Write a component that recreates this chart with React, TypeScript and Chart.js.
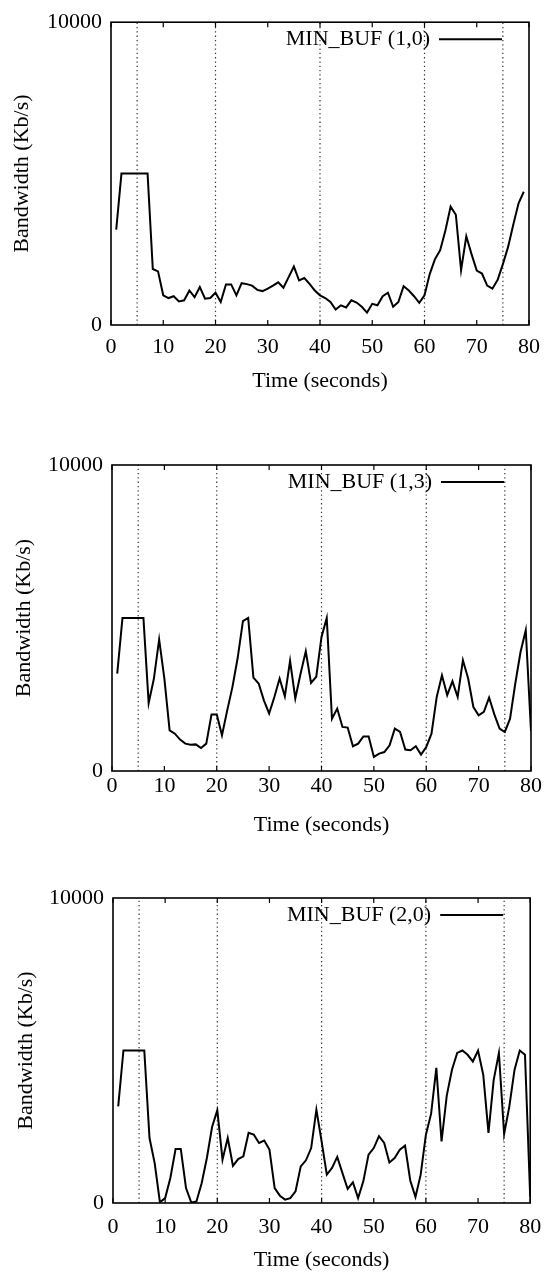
import React, { useEffect, useRef } from "react";
import { Chart, registerables } from "chart.js";

Chart.register(...registerables);

// ---------- data ----------
const TIME_A = [1,2,3,4,5,6,7,8,9,10,11,12,13,14,15,16,17,18,19,20,21,22,23,24,25,26,27,28,29,30,31,32,33,34,35,36,37,38,39,40,41,42,43,44,45,46,47,48,49,50,51,52,53,54,55,56,57,58,59,60,61,62,63,64,65,66,67,68,69,70,71,72,73,74,75,76,77,78,79];
const BW_1_0 = [3150,5000,5000,5000,5000,5000,5000,1850,1770,980,890,950,780,815,1140,920,1250,870,890,1065,760,1340,1340,980,1380,1350,1300,1160,1120,1200,1300,1410,1230,1580,1930,1470,1550,1360,1140,980,890,760,510,650,580,815,740,600,410,700,650,950,1065,600,760,1280,1140,950,730,980,1680,2170,2470,3120,3910,3640,1815,2930,2340,1800,1700,1300,1200,1490,2010,2580,3320,4020,4400];

const TIME_B = [1,2,3,4,5,6,7,8,9,10,11,12,13,14,15,16,17,18,19,20,21,22,23,24,25,26,27,28,29,30,31,32,33,34,35,36,37,38,39,40,41,42,43,44,45,46,47,48,49,50,51,52,53,54,55,56,57,58,59,60,61,62,63,64,65,66,67,68,69,70,71,72,73,74,75,76,77,78,79,80];
const BW_1_3 = [3180,5000,5000,5000,5000,5000,2220,3020,4300,3020,1330,1220,1025,895,860,870,750,895,1850,1850,1170,1980,2750,3700,4900,5000,3050,2860,2310,1880,2420,3020,2440,3600,2370,3180,3910,2880,3080,4380,5000,1710,2040,1440,1420,810,895,1130,1130,460,570,620,840,1385,1275,700,680,810,535,785,1220,2420,3130,2480,2930,2420,3620,3020,2090,1820,1930,2400,1850,1385,1275,1710,2860,3890,4600,1300];

const TIME_C = [1,2,3,4,5,6,7,8,9,10,11,12,13,14,15,16,17,18,19,20,21,22,23,24,25,26,27,28,29,30,31,32,33,34,35,36,37,38,39,40,41,42,43,44,45,46,47,48,49,50,51,52,53,54,55,56,57,58,59,60,61,62,63,64,65,66,67,68,69,70,71,72,73,74,75,76,77,78,79,80];
const BW_2_0 = [3170,5000,5000,5000,5000,5000,2130,1300,20,160,820,1770,1770,490,20,50,650,1475,2490,3040,1420,2130,1220,1440,1530,2300,2240,1970,2050,1750,490,240,110,160,380,1200,1400,1800,3060,2020,930,1150,1510,980,460,680,160,710,1585,1800,2190,1970,1330,1475,1750,1880,740,200,930,2240,2930,4430,2020,3520,4370,4920,5000,4860,4640,5000,4200,2300,4040,4920,2260,3170,4370,5000,4860,200];

const MARKER_TIMES = [5, 20, 40, 60, 75];
const X_MIN = 0, X_MAX = 80, X_STEP = 10;
const Y_MIN = 0, Y_MAX = 10000;
const X_TITLE = "Time (seconds)";
const Y_TITLE = "Bandwidth (Kb/s)";
const LEGENDS = ["MIN_BUF (1,0)", "MIN_BUF (1,3)", "MIN_BUF (2,0)"];

// ---------- layout ----------
const FONT_FAMILY = '"Liberation Serif", "Times New Roman", serif';
const FONT_SIZE = 22;
const LH = FONT_SIZE * 1.2;

type Layout = {
  top: number; height: number; left: number; right: number;
  areaTop: number; areaBottom: number; tickCenter: number; titleCenter: number; yTitleX: number;
};

const LAYOUTS: Layout[] = [
  { top: 0, height: 410, left: 111, right: 529, areaTop: 19, areaBottom: 325, tickCenter: 347.5, titleCenter: 381.7, yTitleX: 22.6 },
  { top: 420, height: 430, left: 112, right: 531, areaTop: 465, areaBottom: 771, tickCenter: 786, titleCenter: 825, yTitleX: 24 },
  { top: 850, height: 423, left: 113, right: 533, areaTop: 898, areaBottom: 1203, tickCenter: 1227, titleCenter: 1260.7, yTitleX: 26 },
];

const framePlugin = {
  id: "gnuplotFrame",
  afterDatasetsDraw(chart: any, _args: any, opts: any) {
    const { ctx, chartArea: a, scales } = chart;
    ctx.save();
    ctx.strokeStyle = "#000";
    ctx.lineWidth = 1.6;
    ctx.strokeRect(a.left, a.top, a.right - a.left, a.bottom - a.top);
    ctx.lineWidth = 1.2;
    for (let v = X_MIN; v <= X_MAX; v += X_STEP) {
      const px = scales.x.getPixelForValue(v);
      ctx.beginPath();
      ctx.moveTo(px, a.bottom); ctx.lineTo(px, a.bottom - 5);
      ctx.moveTo(px, a.top); ctx.lineTo(px, a.top + 5);
      ctx.stroke();
    }
    // legend (key) inside top-right, gnuplot style
    const ly = a.top + 17;
    ctx.fillStyle = "#000";
    ctx.font = `${FONT_SIZE}px ${FONT_FAMILY}`;
    ctx.textAlign = "right";
    ctx.textBaseline = "middle";
    ctx.fillText(opts.text, a.right - 99, ly);
    ctx.lineWidth = 2;
    ctx.beginPath();
    ctx.moveTo(a.right - 90, ly);
    ctx.lineTo(a.right - 27, ly);
    ctx.stroke();
    ctx.restore();
  },
};

function Panel({ layout, times, values, label }: { layout: Layout; times: number[]; values: number[]; label: string }) {
  const ref = useRef<HTMLCanvasElement>(null);
  useEffect(() => {
    const L = layout;
    const font = { family: FONT_FAMILY, size: FONT_SIZE, lineHeight: 1.2 };
    const xAxisHeight = L.top + L.height - L.areaBottom;
    const chart = new Chart(ref.current as HTMLCanvasElement, {
      type: "line",
      data: {
        datasets: [
          ...MARKER_TIMES.map((t) => ({
            label: "marker",
            data: [{ x: t, y: Y_MIN }, { x: t, y: Y_MAX }],
            borderColor: "#333",
            borderWidth: 1.2,
            borderDash: [1.3, 3],
            pointRadius: 0,
            fill: false,
            order: 1,
          })),
          {
            label,
            data: times.map((t, i) => ({ x: t, y: values[i] })),
            borderColor: "#000",
            backgroundColor: "#000",
            borderWidth: 2,
            pointRadius: 0,
            tension: 0,
            fill: false,
            order: 0,
          },
        ],
      } as any,
      options: {
        responsive: false,
        animation: false,
        events: [],
        layout: { padding: { top: L.areaTop - L.top, right: 552 - L.right, left: 0, bottom: 0 } },
        plugins: {
          legend: { display: false },
          tooltip: { enabled: false },
          gnuplotFrame: { text: label },
        } as any,
        scales: {
          x: {
            type: "linear",
            min: X_MIN,
            max: X_MAX,
            grid: { display: false, drawTicks: false },
            border: { display: false },
            ticks: {
              stepSize: X_STEP,
              autoSkip: false,
              maxRotation: 0,
              color: "#000",
              font,
              padding: L.tickCenter - L.areaBottom - LH / 2,
              callback: (v: any) => String(v),
            },
            title: {
              display: true,
              text: X_TITLE,
              color: "#000",
              font,
              padding: { top: 0, bottom: Math.max(0, L.top + L.height - L.titleCenter - LH / 2) },
            },
            afterFit: (s: any) => { s.height = xAxisHeight; },
          },
          y: {
            type: "linear",
            min: Y_MIN,
            max: Y_MAX,
            grid: { display: false, drawTicks: false },
            border: { display: false },
            ticks: { stepSize: Y_MAX - Y_MIN, color: "#000", font, padding: 9, callback: (v: any) => String(v) },
            title: {
              display: true,
              text: Y_TITLE,
              color: "#000",
              font,
              padding: { top: Math.max(0, L.yTitleX - LH / 2), bottom: 0 },
            },
            afterFit: (s: any) => { s.width = L.left; },
          },
        },
      } as any,
      plugins: [framePlugin],
    });
    return () => chart.destroy();
  }, [layout, times, values, label]);
  return (
    <canvas
      ref={ref}
      width={552}
      height={layout.height}
      style={{ position: "absolute", left: 0, top: layout.top, width: 552, height: layout.height, display: "block" }}
    />
  );
}

export default function App() {
  return (
    <div style={{ position: "absolute", left: 0, top: 0, width: 552, height: 1273, background: "#fff", overflow: "hidden" }}>
      <Panel layout={LAYOUTS[0]} times={TIME_A} values={BW_1_0} label={LEGENDS[0]} />
      <Panel layout={LAYOUTS[1]} times={TIME_B} values={BW_1_3} label={LEGENDS[1]} />
      <Panel layout={LAYOUTS[2]} times={TIME_C} values={BW_2_0} label={LEGENDS[2]} />
    </div>
  );
}
